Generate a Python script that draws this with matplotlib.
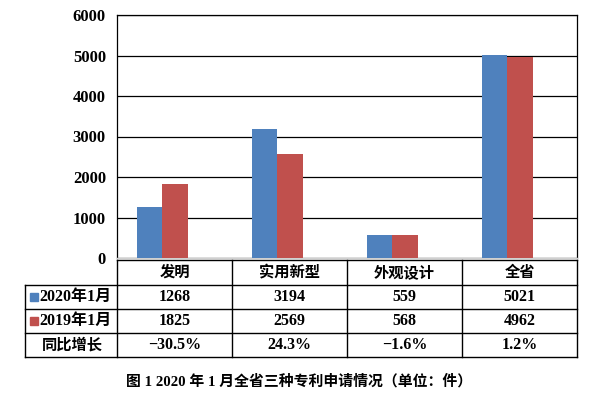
import matplotlib
matplotlib.use("Agg")
import matplotlib.pyplot as plt
import matplotlib.transforms as mtransforms
from matplotlib.lines import Line2D
from matplotlib.patches import Rectangle
import numpy as np

categories = ["发明", "实用新型", "外观设计", "全省"]
series_names = ["2020年1月", "2019年1月"]
values_2020 = [1268, 3194, 559, 5021]
values_2019 = [1825, 2569, 568, 4962]
growth_labels = ["\u221230.5%", "24.3%", "\u22121.6%", "1.2%"]
growth_row_name = "同比增长"
yticks = [0, 1000, 2000, 3000, 4000, 5000, 6000]
caption = "图 1 2020 年 1 月全省三种专利申请情况（单位：件）"

BLUE = "#4F81BD"
RED = "#C0504D"
W, H = 602, 396

plt.rcParams['font.family'] = ['Liberation Serif', 'Noto Sans CJK SC', 'DejaVu Sans']

fig = plt.figure(figsize=(W / 100, H / 100), dpi=100)

def fx(x):
    return x / W

def fy(y):
    return 1 - y / H

ax = fig.add_axes([fx(117), fy(258), (577 - 117) / W, (258 - 15) / H])

n = len(categories)
idx = np.arange(n)
bw = 0.222
center = idx - 0.105
ax.bar(center - bw / 2, values_2020, width=bw, color=BLUE, zorder=3)
ax.bar(center + bw / 2, values_2019, width=bw, color=RED, zorder=3)

ax.set_xlim(-0.5, n - 0.5)
ax.set_ylim(0, 6000)
ax.set_yticks(yticks)
ax.set_yticklabels([str(v) for v in yticks], fontsize=12, fontweight='bold')
ax.set_xticks([])
ax.tick_params(axis='y', length=0, pad=8)
ax.yaxis.grid(True, color='black', linewidth=0.9, zorder=0)
ax.set_axisbelow(True)
for s in ['left', 'right', 'top']:
    ax.spines[s].set_color('black')
    ax.spines[s].set_linewidth(0.9)
ax.spines['bottom'].set_color('#D0D0D0')
ax.spines['bottom'].set_linewidth(1.0)

# Table (columns aligned with the axis categories)
trans = mtransforms.blended_transform_factory(ax.transData, fig.transFigure)
lw = 1.0
row_lines = [260, 285, 309, 333, 357]
left_x = 25
ax_left_px = 117
for k, y in enumerate(row_lines):
    x0 = fx(ax_left_px) if k == 0 else fx(left_x)
    fig.add_artist(Line2D([x0, fx(577)], [fy(y), fy(y)], color='black', linewidth=lw))
fig.add_artist(Line2D([fx(left_x), fx(left_x)], [fy(285), fy(357)], color='black', linewidth=lw))
for b in np.arange(-0.5, n, 1.0):
    fig.add_artist(Line2D([b, b], [fy(260), fy(357)], color='black', linewidth=lw, transform=trans))

row_centers = [272.5, 297, 321, 345]
num_fs = 11.5
for i, c in enumerate(categories):
    fig.text(i, fy(row_centers[0]), c, transform=trans, ha='center', va='center',
             fontsize=11, fontweight='bold')
    fig.text(i, fy(row_centers[1]), str(values_2020[i]), transform=trans, ha='center',
             va='center', fontsize=num_fs, fontweight='bold')
    fig.text(i, fy(row_centers[2]), str(values_2019[i]), transform=trans, ha='center',
             va='center', fontsize=num_fs, fontweight='bold')
    fig.text(i, fy(row_centers[3]), growth_labels[i], transform=trans, ha='center',
             va='center', fontsize=num_fs, fontweight='bold')

for name, color, yc in zip(series_names, [BLUE, RED], row_centers[1:3]):
    fig.add_artist(Rectangle((fx(30), fy(yc + 4)), 8 / W, 8 / H, color=color,
                             transform=fig.transFigure))
    fig.text(fx(39), fy(yc), name, ha='left', va='center', fontsize=11.5, fontweight='bold')
fig.text(fx(72), fy(row_centers[3]), growth_row_name, ha='center', va='center',
         fontsize=11, fontweight='bold')

fig.text(fx(299), fy(381), caption, ha='center', va='center', fontsize=10.7, fontweight='bold')

fig.savefig("out.png", dpi=100)
